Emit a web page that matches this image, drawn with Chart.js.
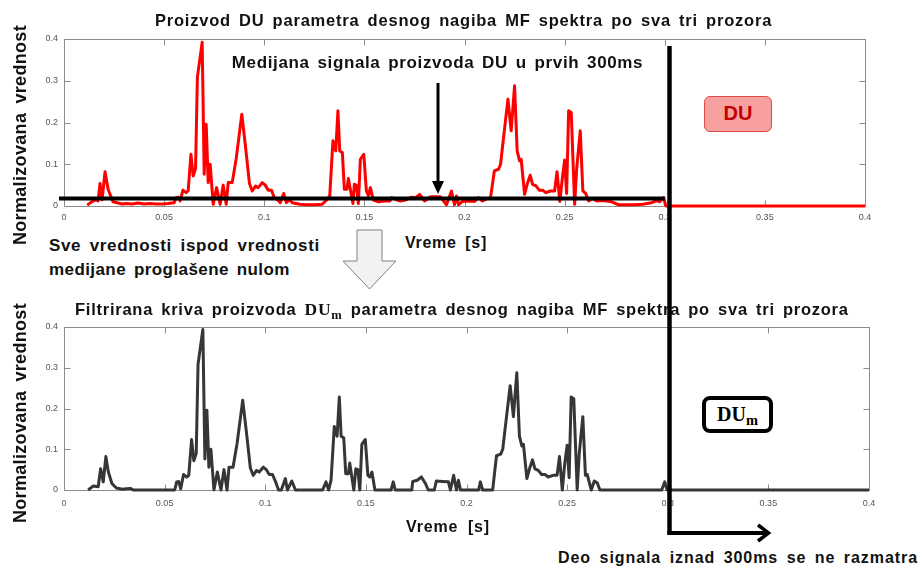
<!DOCTYPE html>
<html>
<head>
<meta charset="utf-8">
<script src="https://cdn.jsdelivr.net/npm/chart.js@4.4.1/dist/chart.umd.min.js"></script>
<style>
html,body{margin:0;padding:0;background:#fff;}
#wrap{position:relative;width:922px;height:569px;overflow:hidden;background:#fff;font-family:"Liberation Sans",Arial,sans-serif;}
canvas{position:absolute;left:0;}
.t{position:absolute;white-space:nowrap;font-weight:bold;color:#111;line-height:1;}
.c{transform:translate(-50%,-50%);}
.l{transform:translate(0,-50%);}
.r{transform:translate(-50%,-50%) rotate(-90deg);}
.serif{font-family:"Liberation Serif","Times New Roman",serif;font-weight:bold;}
.serif sub{font-size:0.72em;vertical-align:-0.28em;line-height:0;}
#ov{position:absolute;left:0;top:0;pointer-events:none;}
.box{position:absolute;box-sizing:border-box;display:flex;align-items:center;justify-content:center;}
</style>
</head>
<body>
<div id="wrap">
  <canvas id="top" width="922" height="232" style="top:0px;width:922px;height:232px"></canvas>
  <canvas id="bot" width="922" height="240" style="top:290px;width:922px;height:240px"></canvas>

  <div class="t c fit" data-w="617" style="left:463.5px;top:20px;font-size:16.5px">Proizvod DU parametra desnog nagiba MF spektra po sva tri prozora</div>
  <div class="t c fit" data-w="411" style="left:437.5px;top:62px;font-size:17px">Medijana signala proizvoda DU u prvih 300ms</div>
  <div class="t r fit" data-w="220" style="left:19.5px;top:135px;font-size:18px">Normalizovana vrednost</div>
  <div class="t l fit" data-w="82" style="left:405px;top:243px;font-size:16px">Vreme [s]</div>
  <div class="t l fit" data-w="271" style="left:49px;top:245px;font-size:17px">Sve vrednosti ispod vrednosti</div>
  <div class="t l fit" data-w="241" style="left:49px;top:269px;font-size:17px">medijane proglašene nulom</div>

  <div class="t l fit" data-w="774" style="left:75px;top:310px;font-size:16.5px">Filtrirana kriva proizvoda <span class="serif" style="font-size:17.5px">DU<sub>m</sub></span> parametra desnog nagiba MF spektra po sva tri prozora</div>
  <div class="t r fit" data-w="220" style="left:19.5px;top:413px;font-size:18px">Normalizovana vrednost</div>
  <div class="t l fit" data-w="84" style="left:406px;top:527px;font-size:16px">Vreme [s]</div>
  <div class="t c fit" data-w="360" style="left:738px;top:557.5px;font-size:16px">Deo signala iznad 300ms se ne razmatra</div>

  <div class="box" style="left:704px;top:95.5px;width:68px;height:36px;background:#f8a0a0;border:1.5px solid #df4a4a;border-radius:6px;">
    <span style="font-weight:bold;font-size:20px;color:#c00000;">DU</span>
  </div>
  <div class="box" style="left:702px;top:396px;width:71px;height:37px;background:#fff;border:4px solid #000;border-radius:8px;">
    <span class="serif" style="font-size:20px;color:#000;">DU<sub>m</sub></span>
  </div>

  <svg id="ov" width="922" height="569">
    <polygon points="357,230 382,230 382,261 396,261 369.5,289 343,261 357,261" fill="#f2f2f2" stroke="#808080" stroke-width="1"/>
    <line x1="438" y1="83" x2="438" y2="184" stroke="#000" stroke-width="3"/>
    <polygon points="432,181 444,181 438,194" fill="#000"/>
    <line x1="669.5" y1="46" x2="669.5" y2="535" stroke="#000" stroke-width="4.5"/>
    <line x1="667.5" y1="533" x2="768" y2="533" stroke="#000" stroke-width="4"/>
    <polyline points="758,525 768.5,533 758,541" fill="none" stroke="#000" stroke-width="3.5"/>
  </svg>
</div>

<script>
// ---------- data ----------
const xTickValues = [0, 0.05, 0.1, 0.15, 0.2, 0.25, 0.3, 0.35, 0.4];
const yTickValues = [0, 0.1, 0.2, 0.3, 0.4];

// Top panel: DU product (red)
const timeTop = [
0.0116,0.0138,0.016,0.017,0.018,0.019,0.0205,0.022,0.0245,0.027,
0.029,0.031,0.034,0.037,0.040,0.043,0.046,0.049,0.052,0.055,
0.056,0.057,0.058,0.0594,0.061,0.062,0.0634,0.0645,0.0657,0.0666,
0.069,0.070,0.071,0.072,0.073,0.0745,0.0762,0.078,0.0795,0.081,
0.082,0.084,0.086,0.0888,0.0906,0.0926,0.094,0.0957,0.097,0.099,
0.1005,0.102,0.1036,0.105,0.107,0.108,0.1097,0.111,0.1125,0.114,
0.1178,0.121,0.125,0.129,0.1312,0.1327,0.1343,0.1357,0.1368,0.1377,
0.139,0.140,0.1413,0.142,0.1443,0.145,0.146,0.147,0.148,0.1497,
0.151,0.152,0.153,0.1544,0.157,0.160,0.1627,0.1636,0.166,0.168,
0.171,0.1733,0.1755,0.1776,0.180,0.1815,0.183,0.188,0.191,0.1935,
0.195,0.196,0.197,0.199,0.202,0.205,0.2069,0.209,0.211,0.213,
0.2149,0.217,0.218,0.2197,0.2217,0.2233,0.225,0.2263,0.2275,0.2283,
0.230,0.2313,0.2328,0.234,0.2357,0.2373,0.239,0.2406,0.243,0.245,
0.2462,0.2476,0.2488,0.250,0.251,0.252,0.2533,0.255,0.256,0.2578,
0.2591,0.2605,0.262,0.264,0.266,0.269,0.2735,0.277,0.281,0.285,
0.289,0.2935,0.296,0.2975,0.2995,0.3005,0.4
];
const duTop = [
0.002,0.010,0.015,0.012,0.054,0.015,0.082,0.040,0.010,0.007,
0.005,0.006,0.005,0.007,0.005,0.006,0.005,0.005,0.006,0.008,
0.020,0.021,0.012,0.038,0.032,0.036,0.124,0.072,0.090,0.308,
0.392,0.076,0.196,0.056,0.100,0.004,0.044,0.004,0.050,0.004,
0.056,0.056,0.114,0.220,0.144,0.054,0.036,0.048,0.044,0.056,
0.050,0.038,0.038,0.020,0.013,0.008,0.030,0.008,0.015,0.008,
0.004,0.003,0.003,0.004,0.015,0.024,0.156,0.132,0.228,0.132,
0.128,0.040,0.040,0.066,0.006,0.052,0.050,0.006,0.112,0.124,
0.036,0.025,0.044,0.015,0.010,0.012,0.012,0.020,0.015,0.012,
0.015,0.021,0.020,0.028,0.012,0.017,0.022,0.022,0.003,0.036,
0.003,0.024,0.003,0.011,0.012,0.011,0.020,0.012,0.017,0.020,
0.084,0.088,0.100,0.172,0.256,0.180,0.288,0.132,0.108,0.112,
0.028,0.052,0.074,0.052,0.048,0.038,0.038,0.032,0.036,0.036,
0.082,0.011,0.064,0.110,0.030,0.228,0.224,0.004,0.088,0.180,
0.036,0.030,0.012,0.018,0.012,0.013,0.010,0.003,0.003,0.003,
0.004,0.008,0.013,0.010,0.020,0.000,0.000
];

// Median of the DU product over the first 300 ms
const medianDU = 0.018;
const medianSpan = [-0.0025, 0.3];

// Bottom panel: filtered DU_m (dark gray)
const timeBottom = [
0.012,0.0146,0.017,0.0182,0.0195,0.0208,0.022,0.0238,0.026,0.029,
0.031,0.033,0.0345,0.055,0.056,0.057,0.058,0.0594,0.061,0.062,
0.0634,0.0645,0.0657,0.0666,0.069,0.070,0.071,0.072,0.073,0.0745,
0.0762,0.078,0.0795,0.081,0.082,0.084,0.086,0.0888,0.0906,0.0926,
0.094,0.0957,0.097,0.099,0.1005,0.102,0.1036,0.105,0.1066,0.108,
0.110,0.111,0.1132,0.115,0.1285,0.1302,0.1315,0.1327,0.1343,0.1357,
0.1368,0.1377,0.139,0.140,0.1413,0.142,0.144,0.145,0.146,0.147,
0.148,0.1497,0.151,0.152,0.153,0.1545,0.1625,0.1636,0.1646,0.1728,
0.1733,0.1755,0.1776,0.1796,0.181,0.184,0.185,0.188,0.191,0.192,
0.1936,0.195,0.196,0.197,0.206,0.2069,0.208,0.213,0.2149,0.217,
0.218,0.2197,0.2217,0.2233,0.225,0.2263,0.2275,0.2283,0.230,0.2313,
0.2328,0.234,0.2357,0.2373,0.239,0.2406,0.243,0.245,0.2462,0.2476,
0.2488,0.250,0.251,0.252,0.2533,0.255,0.256,0.2578,0.2591,0.260,
0.262,0.2635,0.265,0.2663,0.297,0.2985,0.2997,0.4
];
const duBottom = [
0.000,0.010,0.008,0.052,0.020,0.082,0.045,0.016,0.005,0.002,
0.003,0.004,0.000,0.000,0.020,0.021,0.003,0.038,0.032,0.036,
0.124,0.072,0.090,0.308,0.394,0.076,0.196,0.056,0.100,0.000,
0.044,0.000,0.050,0.000,0.056,0.056,0.114,0.220,0.144,0.054,
0.036,0.048,0.044,0.056,0.050,0.038,0.038,0.022,0.000,0.000,
0.028,0.000,0.022,0.000,0.000,0.020,0.000,0.024,0.156,0.132,
0.228,0.132,0.128,0.040,0.040,0.066,0.000,0.052,0.050,0.000,
0.112,0.124,0.036,0.032,0.044,0.000,0.000,0.020,0.000,0.000,
0.021,0.024,0.032,0.016,0.000,0.000,0.022,0.021,0.020,0.000,
0.036,0.000,0.024,0.000,0.000,0.020,0.000,0.000,0.084,0.088,
0.100,0.172,0.256,0.180,0.288,0.132,0.108,0.112,0.028,0.052,
0.074,0.052,0.048,0.038,0.038,0.032,0.036,0.036,0.082,0.000,
0.064,0.110,0.030,0.228,0.224,0.000,0.088,0.180,0.036,0.038,
0.000,0.022,0.017,0.000,0.000,0.020,0.000,0.000
];

// ---------- chart construction ----------
const pairs = (xs, ys) => xs.map((x, i) => ({x: x, y: ys[i]}));
const fmt = v => String(parseFloat(Number(v).toFixed(2)));
const FONT = '"Liberation Sans", Arial, sans-serif';

const matlabAxes = {
  id: 'matlabAxes',
  beforeDatasetsDraw(chart, args, opts) {
    const ctx = chart.ctx, a = chart.chartArea, x = chart.scales.x, y = chart.scales.y;
    const L = opts.len || 6;
    const l = Math.round(a.left) + 0.5, r = Math.round(a.right) + 0.5;
    const t = Math.round(a.top) + 0.5, b = Math.round(a.bottom) + 0.5;
    ctx.save();
    ctx.strokeStyle = opts.color || '#888';
    ctx.lineWidth = 1;
    ctx.strokeRect(l, t, r - l, b - t);
    ctx.beginPath();
    xTickValues.slice(1, -1).forEach(v => {
      const px = Math.round(x.getPixelForValue(v)) + 0.5;
      ctx.moveTo(px, b); ctx.lineTo(px, b - L);
      ctx.moveTo(px, t); ctx.lineTo(px, t + L);
    });
    yTickValues.slice(1, -1).forEach(v => {
      const py = Math.round(y.getPixelForValue(v)) + 0.5;
      ctx.moveTo(l, py); ctx.lineTo(l + L, py);
      ctx.moveTo(r, py); ctx.lineTo(r - L, py);
    });
    ctx.stroke();
    ctx.restore();
  }
};

function makeScales(xHeight, xPad) {
  return {
    x: {
      type: 'linear', min: 0, max: 0.4,
      grid: {display: false, drawTicks: false}, border: {display: false},
      afterBuildTicks: s => { s.ticks = xTickValues.map(v => ({value: v})); },
      afterFit: s => { s.height = xHeight; },
      ticks: {padding: xPad, autoSkip: false, maxRotation: 0, color: '#555',
              font: {size: 9, family: FONT}, callback: v => fmt(v)}
    },
    y: {
      type: 'linear', min: 0, max: 0.4,
      grid: {display: false, drawTicks: false}, border: {display: false},
      afterBuildTicks: s => { s.ticks = yTickValues.map(v => ({value: v})); },
      afterFit: s => { s.width = 64; },
      ticks: {padding: 6, color: '#555', font: {size: 9, family: FONT}, callback: v => fmt(v)}
    }
  };
}

const common = {
  responsive: false, animation: false, devicePixelRatio: 1,
  plugins: {legend: {display: false}, tooltip: {enabled: false}, title: {display: false},
            matlabAxes: {color: '#8c8c8c', len: 6}},
  elements: {point: {radius: 0}, line: {tension: 0}}
};

new Chart(document.getElementById('top'), {
  type: 'scatter',
  data: {
    datasets: [
      {data: medianSpan.map(x => ({x: x, y: medianDU})), showLine: true, borderColor: '#000',
       borderWidth: 4, pointRadius: 0, clip: false},
      {data: pairs(timeTop, duTop), showLine: true, borderColor: '#ff0000', borderWidth: 3,
       pointRadius: 0, borderJoinStyle: 'round', clip: false}
    ]
  },
  options: Object.assign({}, common, {
    layout: {padding: {left: 0, top: 39, right: 57, bottom: 0}},
    scales: makeScales(26, 6)
  }),
  plugins: [matlabAxes]
});

new Chart(document.getElementById('bot'), {
  type: 'scatter',
  data: {
    datasets: [
      {data: pairs(timeBottom, duBottom), showLine: true, borderColor: '#363636', borderWidth: 3,
       pointRadius: 0, borderJoinStyle: 'round', clip: false}
    ]
  },
  options: Object.assign({}, common, {
    layout: {padding: {left: 0, top: 37, right: 53, bottom: 0}},
    scales: makeScales(40, 8)
  }),
  plugins: [matlabAxes]
});

// spread the text blocks to the widths measured on the reference
document.querySelectorAll('.fit').forEach(el => {
  const target = parseFloat(el.dataset.w);
  const txt = el.textContent.replace(/\s+/g, ' ').trim();
  const spaces = (txt.match(/ /g) || []).length;
  const chars = txt.length;
  const w = el.offsetWidth;
  const extra = target - w;
  const ws = spaces ? (extra * 0.35) / spaces : 0;
  const ls = (extra - ws * spaces) / chars;
  el.style.letterSpacing = ls + 'px';
  el.style.wordSpacing = ws + 'px';
});
</script>
</body>
</html>
